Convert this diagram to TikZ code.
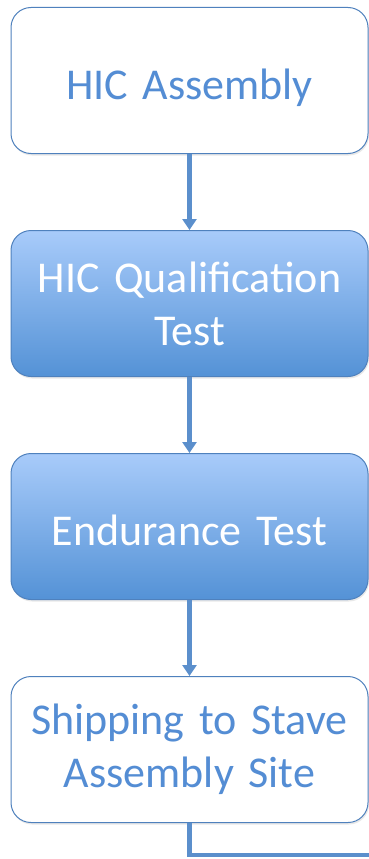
\documentclass[tikz,border=0pt]{standalone}
\usepackage{fontspec}
\setmainfont{Carlito}
\usetikzlibrary{arrows.meta,positioning,shadows}

\definecolor{flowline}{RGB}{79,129,189}
\definecolor{flowtext}{RGB}{84,141,212}
\definecolor{flowarrow}{RGB}{91,143,204}
\definecolor{fillhigh}{RGB}{168,203,250}
\definecolor{filllow}{RGB}{84,146,214}

\tikzset{
  stage/.style={draw=flowline, line width=1pt, rounded corners=20pt,
    minimum width=357pt, minimum height=146pt, text width=345pt,
    align=center, font=\fontsize{44}{53}\selectfont,
    drop shadow={opacity=0.18, shadow xshift=1pt, shadow yshift=-2pt}},
  onerow/.style={text height=38pt, text depth=0pt},
  plainstage/.style={stage, fill=white, text=flowtext},
  teststage/.style={stage, top color=fillhigh, bottom color=filllow, text=white},
  flow/.style={line width=4.5pt, draw=flowarrow, -{Triangle[width=14pt,length=11pt]}}
}

\begin{document}
\begin{tikzpicture}[x=1pt,y=1pt,node distance=76pt]
  \useasboundingbox (0,0) rectangle (369,-859);

  % the four steps, top to bottom
  \node[plainstage, onerow] (assembly) at (189.5,-80.5) {HIC Assembly};
  \node[teststage, below=of assembly] (qualif) {HIC Qualification\\Test};
  \node[teststage, onerow, below=of qualif] (endur) {Endurance Test};
  \node[plainstage, below=of endur] (ship) {Shipping to Stave\\Assembly Site};

  % connectors
  \draw[flow] (assembly) -- (qualif);
  \draw[flow] (qualif) -- (endur);
  \draw[flow] (endur) -- (ship);

  % line leaving to the right at the bottom
  \coordinate (exit) at (372,-855);
  \draw[line width=4.5pt, draw=flowarrow] (ship.south) |- (exit);
\end{tikzpicture}
\end{document}
